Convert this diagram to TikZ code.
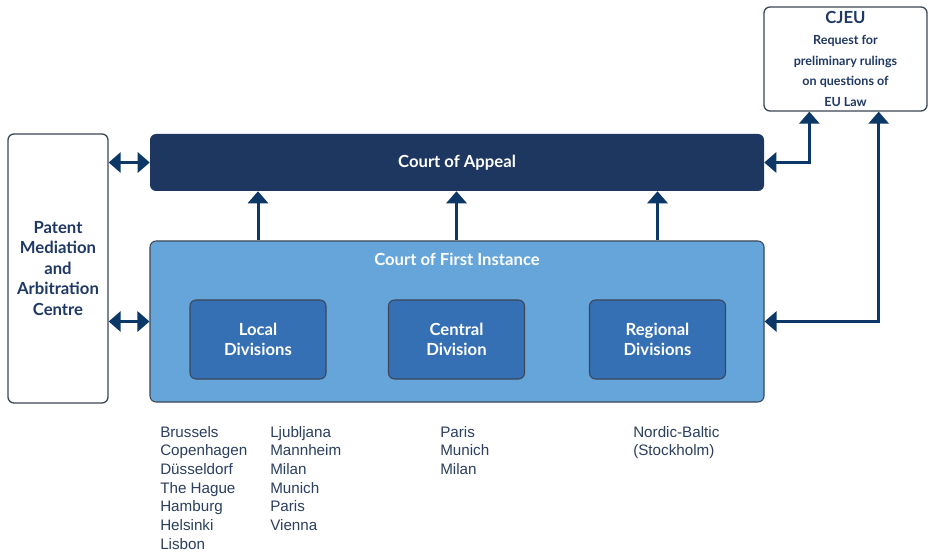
\documentclass[tikz,border=0pt]{standalone}
\usepackage{fontspec}
\setmainfont{Liberation Sans}
\newfontfamily\headfont{Lato}
\usetikzlibrary{arrows.meta,positioning}
\definecolor{appealblue}{HTML}{1E3761}
\definecolor{firstblue}{HTML}{65A5DA}
\definecolor{divblue}{HTML}{3570B5}
\definecolor{arrowblue}{HTML}{0B3866}
\definecolor{titleblue}{HTML}{1F3864}
\definecolor{framegray}{HTML}{3C4656}
\definecolor{citygray}{HTML}{2B3F5E}

\begin{document}
\begin{tikzpicture}[
    x=0.75pt, y=-0.75pt,
    box/.style={rectangle, rounded corners=4.5pt, inner sep=0, align=center,
        font=\headfont\bfseries\fontsize{12.5}{15.4}\selectfont},
    whitebox/.style={box, draw=framegray, line width=1pt, fill=white, text=titleblue},
    divbox/.style={box, draw=framegray, line width=0.8pt, fill=divblue, text=white,
        minimum width=102pt, minimum height=59.25pt},
    tip/.tip={Triangle[width=15pt, length=9pt]},
    link/.style={draw=arrowblue, line width=2.25pt, -tip},
    biglink/.style={link, tip-tip},
    cities/.style={anchor=north west, align=left, inner sep=0, text=citygray,
        font=\fontsize{11.4}{14}\selectfont}
]
\useasboundingbox[fill=white] (0,0) rectangle (928,552);

% courts
\node (appeal) [box, fill=appealblue, text=white, minimum width=460.5pt, minimum height=42.75pt]
    at (457,162.5) {Court of Appeal};
\node (cfi) [box, draw=framegray, line width=0.8pt, fill=firstblue, minimum width=460.5pt, minimum height=120.75pt]
    at (457,321.5) {};
\node (cfititle) [box, text=white] at (457,259) {Court of First Instance};
\node (local)    [divbox] at (258,339.5)   {Local\\Divisions};
\node (central)  [divbox] at (456.5,339.5) {Central\\Division};
\node (regional) [divbox] at (657.5,339.5) {Regional\\Divisions};

% side boxes
\node (pmac) [whitebox, minimum width=75pt, minimum height=201.75pt] at (58,268.5)
    {Patent\\Mediation\\and\\Arbitration\\Centre};
\node (cjeu) [whitebox, minimum width=122.25pt, minimum height=78pt,
    font=\headfont\bfseries\fontsize{9.4}{15.4}\selectfont] at (845.5,59)
    {{\fontsize{12.5}{15.4}\selectfont CJEU}\\Request for\\preliminary rulings\\on questions of\\EU Law};

% connectors
\draw[biglink] (pmac.east |- appeal) -- (appeal.west);
\draw[biglink] (pmac.east |- cfi) -- (cfi.west);
\foreach \d in {local,central,regional}
    \draw[link] (\d |- cfi.north) -- (\d |- appeal.south);
\draw[biglink] (appeal.east) -| ([xshift=34.5pt]cjeu.south west);
\draw[biglink] (cfi.east) -| ([xshift=-36.75pt]cjeu.south east);

% seats
\node (localA) [cities] at (160,426)
    {Brussels\\Copenhagen\\Düsseldorf\\The Hague\\Hamburg\\Helsinki\\Lisbon};
\node (localB) [cities] at (270,426)
    {Ljubljana\\Mannheim\\Milan\\Munich\\Paris\\Vienna};
\node (centralA) [cities] at (440,426) {Paris\\Munich\\Milan};
\node (regionalA) [cities] at (633,426) {Nordic-Baltic\\(Stockholm)};

\end{tikzpicture}
\end{document}
